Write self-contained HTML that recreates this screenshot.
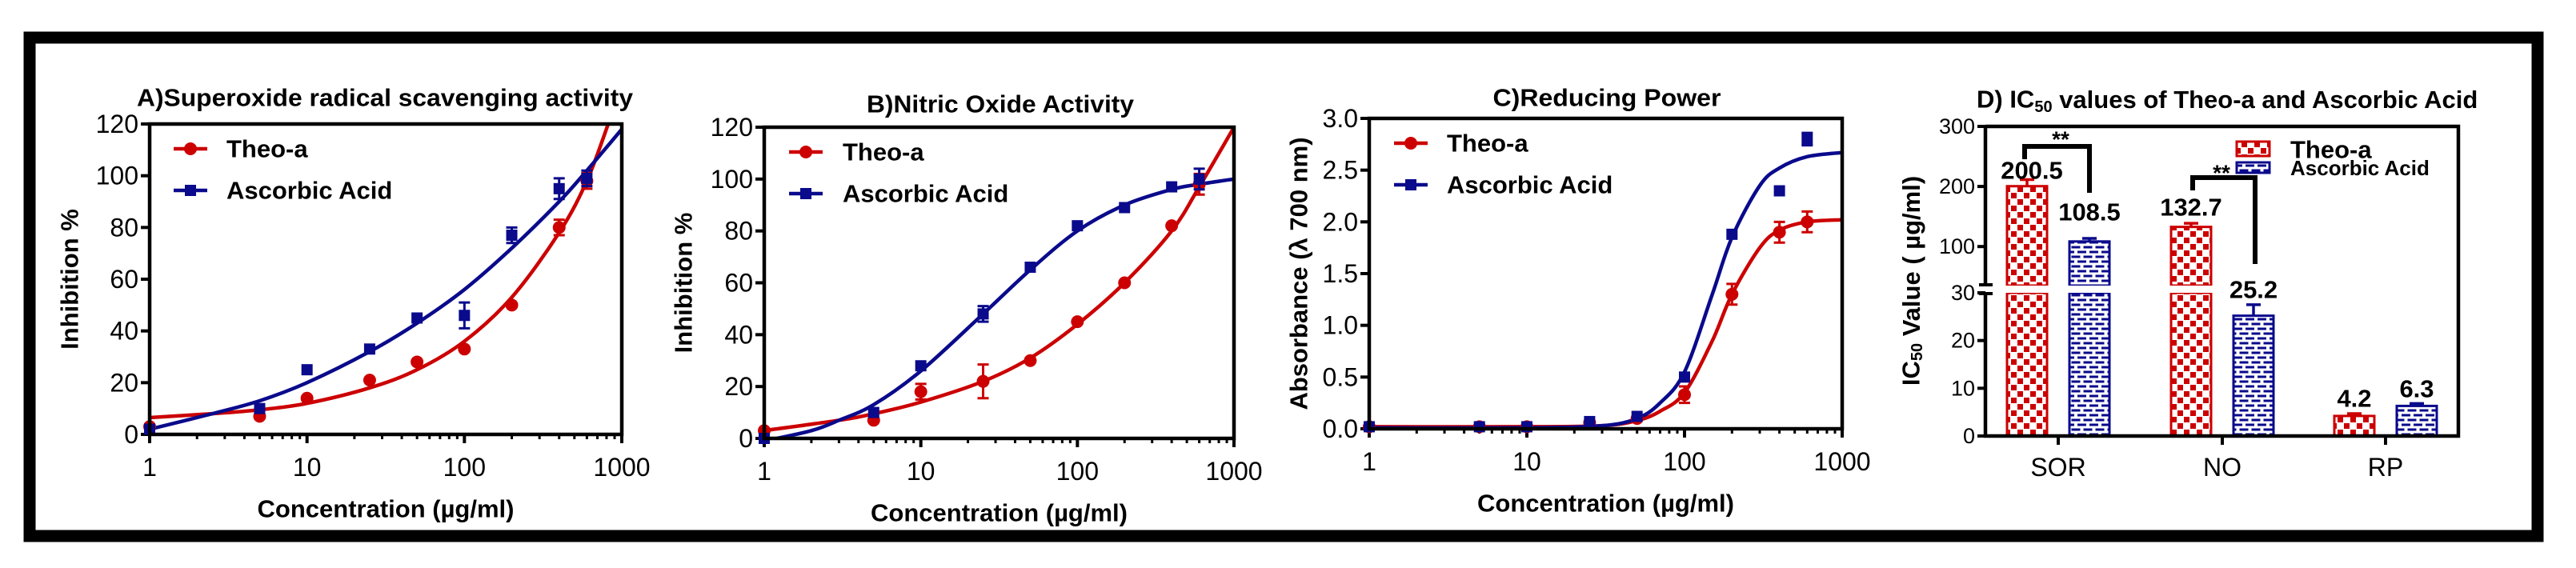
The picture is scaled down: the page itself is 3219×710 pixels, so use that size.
<!DOCTYPE html>
<html><head><meta charset="utf-8"><style>
html,body{margin:0;padding:0;background:#fff}
svg{display:block}
text{font-family:"Liberation Sans",Arial,sans-serif}
</style></head><body>
<svg id="fig" width="3219" height="710" viewBox="0 0 3219 710" xmlns="http://www.w3.org/2000/svg">
<defs>
<pattern id="checker" patternUnits="userSpaceOnUse" width="16" height="16" x="0" y="0">
<rect width="16" height="16" fill="#fff"/><rect x="1" y="1" width="7" height="7" fill="#cc0000"/><rect x="9" y="9" width="7" height="7" fill="#cc0000"/>
</pattern>
<pattern id="brick" patternUnits="userSpaceOnUse" width="15" height="12">
<rect width="15" height="12" fill="#fff"/><rect x="1" y="1.5" width="11" height="3" fill="#0a0a8c"/><rect x="8.5" y="7.5" width="11" height="3" fill="#0a0a8c"/><rect x="-6.5" y="7.5" width="11" height="3" fill="#0a0a8c"/>
</pattern>
</defs>
<rect x="37" y="47" width="3134" height="623" fill="none" stroke="#000" stroke-width="15"/>
</svg>
<script>
// ---------- data ----------
const concX = [1,5,10,25,50,100,200,400,600];
// Panel A
const aTheo = [3,7,14,21,28,33,50,80,98];
const aTheoErr = [0,0,0,0,0,0,0,3,3];
const aAsc = [2,10,25,33,45,46,77,95,99];
const aAscErr = [0,0,0,0,0,5,3,4,3];
const aCurveX = [1,2.5,5,10,25,50,100,200,400,600,820,1000];
const aTheoCurve = [6.5,8,9.5,12,18,25,36,53,78,98,120,135];
const aAscCurveX = [1,2.5,5,10,25,50,100,200,400,600,1000];
const aAscCurve = [2,8,13,20,32,43,56,72,90,102,118];
const aYTicks = [0,20,40,60,80,100,120];
// Panel B
const bTheo = [3,7,18,22,30,45,60,82,98];
const bTheoErr = [0,0,3,6.5,0,0,0,0,4];
const bAsc = [0,10,28,48,66,82,89,97,100];
const bAscErr = [0,0,0,3,0,0,0,0,4];
const bTheoCurveX = [1,3,5,10,25,50,100,200,400,600,1000];
const bTheoCurve = [3,7,9.5,14,22,31,44,60,80,97,120];
const bAscCurveX = [1,2,3,5,10,25,50,100,200,400,600,1000];
const bAscCurve = [-1,3,7,13,26,48,65,80,90,96,98,100];
const bYTicks = [0,20,40,60,80,100,120];
// Panel C
const cTheo = [0.02,0.02,0.02,0.06,0.1,0.33,1.3,1.9,2.0];
const cTheoErr = [0,0,0,0,0,0.08,0.1,0.1,0.1];
const cAsc = [0.02,0.02,0.02,0.07,0.12,0.5,1.88,2.3,2.8];
const cAscErr = [0,0,0,0,0,0,0,0,0.06];
const cCurveX = [1,10,30,50,70,100,150,200,300,400,600,1000];
const cTheoCurve = [0.02,0.02,0.03,0.08,0.17,0.35,0.85,1.3,1.75,1.92,2.0,2.02];
const cAscCurve = [0.01,0.01,0.03,0.1,0.25,0.55,1.3,1.85,2.35,2.52,2.63,2.67];
const cYTicks = [0,0.5,1.0,1.5,2.0,2.5,3.0];
// Panel D
const dCategories = ['SOR','NO','RP'];
const dTheo = [200.5,132.7,4.2];
const dTheoErr = [11,6,0.5];
const dAsc = [108.5,25.2,6.3];
const dAscErr = [5,2.3,0.5];
const dUpperTicks = [100,200,300];
const dLowerTicks = [0,10,20,30];
const xTickLabels = ['1','10','100','1000'];

const RED = '#cc0000', BLUE = '#0a0a8c';
const svg = document.getElementById('fig');
const NS = 'http://www.w3.org/2000/svg';
function mk(tag, attrs, parent) {
  const e = document.createElementNS(NS, tag);
  for (const k in attrs) e.setAttribute(k, attrs[k]);
  (parent || svg).appendChild(e);
  return e;
}
function smooth(pts) {
  let d = 'M' + pts[0][0] + ',' + pts[0][1];
  for (let i = 0; i < pts.length - 1; i++) {
    const p0 = pts[i - 1] || pts[i], p1 = pts[i], p2 = pts[i + 1], p3 = pts[i + 2] || p2;
    const c1x = p1[0] + (p2[0] - p0[0]) / 6, c1y = p1[1] + (p2[1] - p0[1]) / 6;
    const c2x = p2[0] - (p3[0] - p1[0]) / 6, c2y = p2[1] - (p3[1] - p1[1]) / 6;
    d += ' C' + c1x + ',' + c1y + ' ' + c2x + ',' + c2y + ' ' + p2[0] + ',' + p2[1];
  }
  return d;
}

function logPanel(cfg) {
  const g = mk('g', {});
  
  
  const L = cfg.left, R = cfg.right, T = cfg.top, B = cfg.bottom;
  const xs = v => L + Math.log10(v) / 3 * (R - L);
  const ys = v => B - v / cfg.ymax * (B - T);
  const clipId = 'clip-' + cfg.name;
  const cp = mk('clipPath', {id: clipId}, g);
  mk('rect', {x: L, y: T - 2, width: R - L, height: B - T + 4}, cp);
  const t = mk('text', {x: cfg.titleX, y: cfg.titleY, 'font-size': 31, 'font-weight': 'bold', 'text-anchor': 'middle', 'dominant-baseline': 'central', textLength: cfg.titleW, lengthAdjust: 'spacingAndGlyphs'}, g);
  t.textContent = cfg.title;
  
  
  cfg.yTicks.forEach(v => {
    mk('line', {x1: L - 11, x2: L, y1: ys(v), y2: ys(v), stroke: '#000', 'stroke-width': 4}, g);
    const tl = mk('text', {x: L - 14, y: ys(v), 'font-size': 32, 'text-anchor': 'end', 'dominant-baseline': 'central'}, g);
    tl.textContent = cfg.yFmt ? v.toFixed(1) : String(v);
    
    
  });
  for (let dec = 0; dec < 3; dec++) {
    for (let m = 2; m <= 9; m++) {
      const xv = xs(Math.pow(10, dec) * m);
      mk('line', {x1: xv, x2: xv, y1: B, y2: B + 6, stroke: '#000', 'stroke-width': 3}, g);
    }
  }
  xTickLabels.forEach((lab, i) => {
    const xv = xs(Math.pow(10, i));
    mk('line', {x1: xv, x2: xv, y1: B, y2: B + 11, stroke: '#000', 'stroke-width': 4}, g);
    const tl = mk('text', {x: xv, y: B + 41, 'font-size': 32, 'text-anchor': 'middle', 'dominant-baseline': 'central'}, g);
    tl.textContent = lab;
    
    
  });
  const xt = mk('text', {x: (L + R) / 2 + cfg.xTitleDx, y: B + 93, 'font-size': 31, 'font-weight': 'bold', 'text-anchor': 'middle', 'dominant-baseline': 'central'}, g);
  xt.textContent = 'Concentration (\u00b5g/ml)';
  
  
  const yt = mk('text', {x: 0, y: 0, 'font-size': 31, 'font-weight': 'bold', 'text-anchor': 'middle', 'dominant-baseline': 'central', transform: 'translate(' + cfg.yTitleX + ',' + (T + B) / 2 + ') rotate(-90)'}, g);
  yt.textContent = cfg.yTitle;
  
  
  const cg = mk('g', {'clip-path': 'url(#' + clipId + ')'}, g);
  cfg.series.forEach(s => {
    const p = mk('path', {d: smooth(s.cx.map((x, i) => [xs(x), ys(s.cy[i])])), fill: 'none', stroke: s.color, 'stroke-width': 4.5}, cg);
    
    
  });
  cfg.series.forEach(s => {
    concX.forEach((cx, i) => {
      const px = xs(cx), py = ys(s.v[i]);
      if (s.err[i] > 0) {
        const e1 = ys(s.v[i] + s.err[i]), e2 = ys(s.v[i] - s.err[i]);
        const eb = mk('path', {d: 'M' + px + ',' + e1 + 'V' + e2 + 'M' + (px - 7) + ',' + e1 + 'H' + (px + 7) + 'M' + (px - 7) + ',' + e2 + 'H' + (px + 7), stroke: s.color, 'stroke-width': 3, fill: 'none'}, g);
        
        
      }
      let m;
      if (s.shape === 'circle') m = mk('circle', {cx: px, cy: py, r: 8, fill: s.color}, g);
      else m = mk('rect', {x: px - 7, y: py - 7, width: 14, height: 14, fill: s.color}, g);
      
      
    });
  });
  mk('rect', {x: L, y: T, width: R - L, height: B - T, fill: 'none', stroke: '#000', 'stroke-width': 4.5}, g);
  cfg.series.forEach((s, i) => {
    const ly = cfg.legY[i];
    const lg = mk('g', {}, g);
    
    
    mk('line', {x1: cfg.legX, x2: cfg.legX + 42, y1: ly, y2: ly, stroke: s.color, 'stroke-width': 4.5}, lg);
    if (s.shape === 'circle') mk('circle', {cx: cfg.legX + 21, cy: ly, r: 8, fill: s.color}, lg);
    else mk('rect', {x: cfg.legX + 14, y: ly - 7, width: 14, height: 14, fill: s.color}, lg);
    const lt = mk('text', {x: cfg.legTextX, y: ly, 'font-size': 31, 'font-weight': 'bold', 'dominant-baseline': 'central'}, lg);
    lt.textContent = s.label;
  });
}

logPanel({name: 'panel-a-superoxide', left: 187, right: 777, top: 155, bottom: 543, ymax: 120,
  title: 'A)Superoxide radical scavenging activity', titleX: 481, titleY: 122, titleW: 620,
  yTicks: aYTicks, yTitle: 'Inhibition %', yTitleX: 87, xTitleDx: 0,
  legX: 217, legTextX: 283, legY: [186, 238],
  series: [
    {key: 'theo-a', label: 'Theo-a', color: RED, shape: 'circle', v: aTheo, err: aTheoErr, cx: aCurveX, cy: aTheoCurve},
    {key: 'ascorbic-acid', label: 'Ascorbic Acid', color: BLUE, shape: 'square', v: aAsc, err: aAscErr, cx: aAscCurveX, cy: aAscCurve}
  ]});
logPanel({name: 'panel-b-nitric-oxide', left: 955, right: 1542, top: 159, bottom: 548, ymax: 120,
  title: 'B)Nitric Oxide Activity', titleX: 1250, titleY: 130, titleW: 334,
  yTicks: bYTicks, yTitle: 'Inhibition %', yTitleX: 854, xTitleDx: 0,
  legX: 986, legTextX: 1053, legY: [190, 242],
  series: [
    {key: 'theo-a', label: 'Theo-a', color: RED, shape: 'circle', v: bTheo, err: bTheoErr, cx: bTheoCurveX, cy: bTheoCurve},
    {key: 'ascorbic-acid', label: 'Ascorbic Acid', color: BLUE, shape: 'square', v: bAsc, err: bAscErr, cx: bAscCurveX, cy: bAscCurve}
  ]});
logPanel({name: 'panel-c-reducing-power', left: 1711, right: 2302, top: 148, bottom: 536, ymax: 3, yFmt: true,
  title: 'C)Reducing Power', titleX: 2008, titleY: 122, titleW: 285,
  yTicks: cYTicks, yTitle: 'Absorbance (\u03bb 700 nm)', yTitleX: 1623, xTitleDx: 0,
  legX: 1742, legTextX: 1808, legY: [179, 231],
  series: [
    {key: 'theo-a', label: 'Theo-a', color: RED, shape: 'circle', v: cTheo, err: cTheoErr, cx: cCurveX, cy: cTheoCurve},
    {key: 'ascorbic-acid', label: 'Ascorbic Acid', color: BLUE, shape: 'square', v: cAsc, err: cAscErr, cx: cCurveX, cy: cAscCurve}
  ]});

// ---------- Panel D ----------
(function () {
  const g = mk('g', {});
  
  
  const L = 2481, R = 3072, T = 158, B = 545;
  const upTop = 158, upBot = 357, upMin = 35, upMax = 300;
  const loTop = 366, loBot = 545, loMax = 30;
  const yUp = v => upBot - (v - upMin) / (upMax - upMin) * (upBot - upTop);
  const yLo = v => loBot - v / loMax * (loBot - loTop);
  const yv = v => v <= loMax ? yLo(v) : (v >= upMin ? yUp(v) : yLo(loMax));
  const catX = [2572, 2777, 2981];
  const barW = 50, off = 39;

  const t = mk('text', {x: 2470, y: 124, 'font-size': 31, 'font-weight': 'bold', 'dominant-baseline': 'central'}, g);
  
  
  t.innerHTML = 'D) IC<tspan font-size="20" dy="10">50</tspan><tspan dy="-10"> values of Theo-a and Ascorbic Acid</tspan>';

  const yt = mk('text', {x: 0, y: 0, 'font-size': 31, 'font-weight': 'bold', 'text-anchor': 'middle', 'dominant-baseline': 'central', transform: 'translate(2388,351) rotate(-90)'}, g);
  
  
  yt.innerHTML = 'IC<tspan font-size="20" dy="8">50</tspan><tspan dy="-8"> Value ( \u00b5g/ml)</tspan>';

  function bar(cx, v, err, fill, stroke, key, i) {
    const x = cx - barW / 2;
    const bg = mk('g', {}, g);
    
    
    const eTop = yv(v + err);
    mk('path', {d: 'M' + cx + ',' + eTop + 'V' + yv(v) + 'M' + (cx - 9) + ',' + eTop + 'H' + (cx + 9), stroke: stroke, 'stroke-width': 3.5, fill: 'none'}, bg);
    if (v > loMax) {
      mk('rect', {x: x, y: yv(v), width: barW, height: upBot - yv(v), fill: fill, stroke: stroke, 'stroke-width': 3}, bg);
      mk('rect', {x: x, y: loTop, width: barW, height: loBot - loTop, fill: fill, stroke: stroke, 'stroke-width': 3}, bg);
      mk('rect', {x: x - 3, y: upBot, width: barW + 6, height: loTop - upBot, fill: '#fff'}, bg);
    } else {
      mk('rect', {x: x, y: yv(v), width: barW, height: loBot - yv(v), fill: fill, stroke: stroke, 'stroke-width': 3}, bg);
    }
  }
  dCategories.forEach((c, i) => {
    bar(catX[i] - off, dTheo[i], dTheoErr[i], 'url(#checker)', RED, 'theo-a', i);
    bar(catX[i] + off, dAsc[i], dAscErr[i], 'url(#brick)', BLUE, 'ascorbic-acid', i);
  });
  const labY = [[213, 265], [259, 362], [498, 486]];
  dCategories.forEach((c, i) => {
    [[dTheo[i], -off], [dAsc[i], off]].forEach((p, j) => {
      const vl = mk('text', {x: catX[i] + p[1] + (i === 0 && j === 0 ? 6 : 0), y: labY[i][j], 'font-size': 31, 'font-weight': 'bold', 'text-anchor': 'middle', 'dominant-baseline': 'central'}, g);
      vl.textContent = p[0].toFixed(1);
      
      
    });
  });
  const br1 = mk('path', {d: 'M2530,199V183H2611V241', fill: 'none', stroke: '#000', 'stroke-width': 6}, g);
  
  
  const br2 = mk('path', {d: 'M2740,238V222H2818V330', fill: 'none', stroke: '#000', 'stroke-width': 6}, g);
  
  
  [[2575, 174], [2776, 216]].forEach(p => {
    const s = mk('text', {x: p[0], y: p[1], 'font-size': 28, 'font-weight': 'bold', 'text-anchor': 'middle', 'dominant-baseline': 'central'}, g);
    s.textContent = '**';
    
    
  });
  mk('path', {d: 'M' + L + ',' + T + 'H' + R + 'V' + B + 'H' + L + 'V' + loTop + 'M' + L + ',' + upBot + 'V' + T, fill: 'none', stroke: '#000', 'stroke-width': 4.5}, g);
  mk('path', {d: 'M2473,' + (upBot - 1) + 'H2490M2473,' + (loTop + 1) + 'H2490', stroke: '#000', 'stroke-width': 4}, g);
  dUpperTicks.forEach(v => {
    mk('line', {x1: L - 10, x2: L, y1: yUp(v), y2: yUp(v), stroke: '#000', 'stroke-width': 4}, g);
    const tl = mk('text', {x: L - 13, y: yUp(v), 'font-size': 27, 'text-anchor': 'end', 'dominant-baseline': 'central'}, g);
    tl.textContent = String(v);
    
    
  });
  dLowerTicks.forEach(v => {
    mk('line', {x1: L - 10, x2: L, y1: yLo(v), y2: yLo(v), stroke: '#000', 'stroke-width': 4}, g);
    const tl = mk('text', {x: L - 13, y: yLo(v), 'font-size': 27, 'text-anchor': 'end', 'dominant-baseline': 'central'}, g);
    tl.textContent = String(v);
    
    
  });
  dCategories.forEach((c, i) => {
    mk('line', {x1: catX[i], x2: catX[i], y1: B, y2: B + 11, stroke: '#000', 'stroke-width': 4}, g);
    const cl = mk('text', {x: catX[i], y: 584, 'font-size': 32, 'text-anchor': 'middle', 'dominant-baseline': 'central'}, g);
    cl.textContent = c;
    
    
  });
  const l1 = mk('g', {}, g);
  
  
  mk('rect', {x: 2795, y: 177, width: 41, height: 18, fill: 'url(#checker)', stroke: RED, 'stroke-width': 3}, l1);
  const lt1 = mk('text', {x: 2862, y: 187, 'font-size': 31, 'font-weight': 'bold', 'dominant-baseline': 'central'}, l1);
  lt1.textContent = 'Theo-a';
  const l2 = mk('g', {}, g);
  
  
  mk('rect', {x: 2795, y: 203, width: 41, height: 13, fill: 'url(#brick)', stroke: BLUE, 'stroke-width': 3}, l2);
  const lt2 = mk('text', {x: 2862, y: 210, 'font-size': 26, 'font-weight': 'bold', 'dominant-baseline': 'central'}, l2);
  lt2.textContent = 'Ascorbic Acid';
})();
</script>
</body></html>
